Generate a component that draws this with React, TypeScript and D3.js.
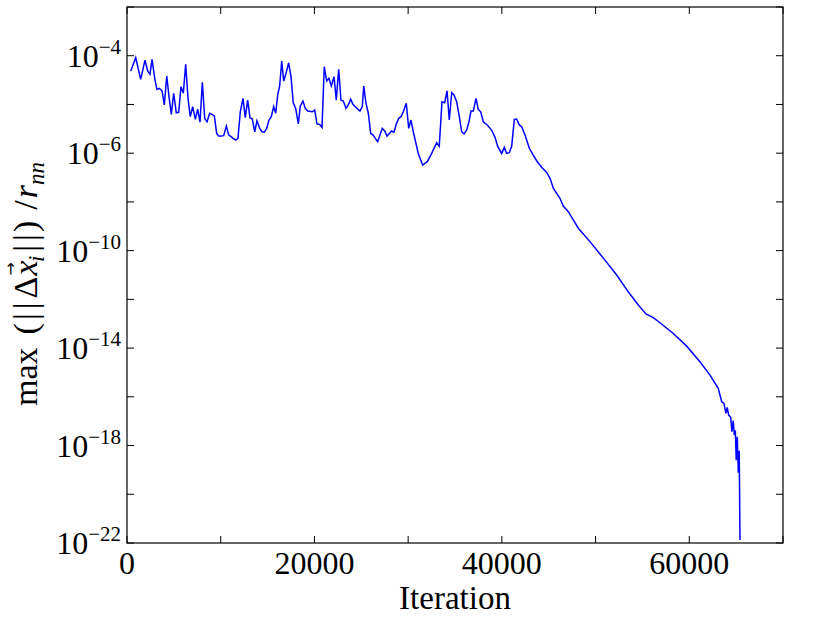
import React from "react";
import * as d3 from "d3";

// iteration number of each sample
const iterations = [
  400, 930, 1460, 1920, 2210, 2450, 2670, 2990, 3200, 3450,
  3740, 3980, 4240, 4480, 4730, 4980, 5260, 5520, 5760, 6010,
  6260, 6510, 6750, 7010, 7290, 7540, 7790, 8040, 8290, 8540,
  8820, 9070, 9320, 9570, 9820, 10320, 10600, 10850, 11340, 11600,
  11840, 12090, 12380, 12620, 12880, 13120, 13370, 13630, 13870, 14160,
  14400, 14650, 14910, 15150, 15400, 15650, 15870, 16080, 16290, 16510,
  16720, 16970, 17250, 17500, 17740, 18000, 18280, 18490, 18780, 19020,
  19280, 19770, 20030, 20270, 20560, 20810, 21050, 21310, 21550, 21800,
  22090, 22330, 22590, 22830, 23080, 23370, 23610, 23870, 24110, 24360,
  24620, 24860, 25110, 25260, 25500, 25750, 26000, 26250, 26490, 26750,
  27240, 27500, 27740, 27990, 28240, 28490, 28740, 28990, 29240, 29480,
  29800, 30060, 30300, 30550, 31080, 31550, 32040, 32510, 33050, 33320,
  33610, 33900, 34150, 34390, 34650, 34890, 35180, 35460, 35710, 35960,
  36250, 36490, 36710, 36950, 37240, 37480, 37740, 38020, 38440, 38910,
  39270, 39550, 39980, 40260, 40510, 40790, 41050, 41330, 41580, 41860,
  42120, 42470, 42930, 43350, 43780, 44250, 44780, 45140, 45490, 46200,
  46550, 47090, 48160, 49400, 51000, 52250, 53490, 54560, 55380, 56160,
  56870, 58290, 59720, 61140, 62210, 63090, 63460, 63700, 63910, 64050,
  64200, 64420, 64550, 64690, 64800, 64910, 65010, 65120, 65230, 65330, 65410,
];

// log10 of max(|dx_i|)/r_nn
const log10Ratio = [
  -2.63, -2.08, -2.97, -2.18, -2.63, -2.76, -2.15, -3.0, -3.38, -3.34,
  -3.44, -4.02, -2.83, -3.68, -4.41, -3.54, -4.34, -4.32, -3.27, -3.54,
  -2.35, -3.75, -4.5, -4.09, -4.61, -4.19, -4.73, -3.09, -4.57, -4.71,
  -4.36, -4.41, -4.47, -5.19, -5.3, -5.28, -4.89, -5.25, -5.39, -5.46,
  -5.39, -4.3, -3.75, -4.54, -3.82, -4.54, -4.6, -5.12, -4.67, -4.98,
  -5.12, -5.14, -4.98, -4.64, -4.5, -4.09, -4.36, -3.61, -3.24, -2.22,
  -3.04, -2.72, -2.29, -2.86, -3.93, -4.16, -4.8, -4.06, -3.86, -4.16,
  -4.27, -4.3, -4.23, -4.8, -4.82, -4.94, -2.45, -3.04, -2.93, -3.24,
  -2.86, -3.82, -2.56, -3.82, -3.86, -4.16, -4.02, -3.78, -3.99, -4.09,
  -4.19, -4.27, -4.09, -3.24, -3.95, -4.36, -5.19, -5.25, -5.39, -5.53,
  -4.98, -5.09, -5.3, -5.19, -5.09, -5.14, -4.8, -4.57, -4.5, -4.3,
  -3.95, -4.98, -4.64, -5.12, -6.01, -6.49, -6.35, -6.01, -5.57, -5.71,
  -3.89, -3.93, -3.44, -4.64, -3.52, -3.61, -3.89, -4.5, -5.12, -5.21,
  -5.05, -4.71, -4.27, -4.27, -3.75, -4.2, -4.3, -4.71, -4.84, -5.05,
  -5.35, -5.71, -6.01, -5.76, -6.01, -5.98, -5.71, -4.61, -4.6, -4.84,
  -4.91, -5.25, -5.8, -6.08, -6.35, -6.58, -6.79, -7.03, -7.44, -7.85,
  -8.17, -8.4, -9.08, -9.63, -10.39, -11.0, -11.69, -12.23, -12.6, -12.75,
  -12.96, -13.4, -13.92, -14.56, -15.11, -15.65, -16.2, -16.27, -16.68, -16.43,
  -16.75, -16.84, -17.43, -16.98, -17.57, -17.37, -18.6, -17.64, -19.12, -18.21, -21.88,
];

const xTicks = [0, 10000, 20000, 30000, 40000, 50000, 60000, 70000];
const xTickLabels = ["0", "", "20000", "", "40000", "", "60000", ""];
const yTicks = [1e0, 1e-2, 1e-4, 1e-6, 1e-8, 1e-10, 1e-12, 1e-14, 1e-16, 1e-18, 1e-20, 1e-22];
// labels exactly as printed on the original figure
const yLabelTicks = [1e-2, 1e-6, 1e-10, 1e-14, 1e-18, 1e-22];
const yLabelExps = ["\u22124", "\u22126", "\u221210", "\u221214", "\u221218", "\u221222"];

const W = 830;
const H = 623;
const left = 127, right = 783, top = 7, bottom = 543;
const FONT = "'Liberation Serif', 'DejaVu Serif', serif";

export default function App() {
  const x = d3.scaleLinear().domain([0, 70000]).range([left, right]);
  const y = d3.scaleLog().domain([1e-22, 1e0]).range([bottom, top]);

  const data = iterations.map((it, i) => ({ it, v: Math.pow(10, log10Ratio[i]) }));
  const line = d3.line<{ it: number; v: number }>()
    .x(d => x(d.it))
    .y(d => y(d.v));

  const tick = 7;

  return (
    <svg width={W} height={H} style={{ position: "absolute", left: 0, top: 0, background: "#fff" }} fontFamily={FONT}>
      <rect x={0} y={0} width={W} height={H} fill="#fff" />
      <defs>
        <clipPath id="plotClip">
          <rect x={left} y={top} width={right - left} height={bottom - top} />
        </clipPath>
      </defs>

      <path d={line(data) || ""} fill="none" stroke="#0000ff" strokeWidth={1.5} clipPath="url(#plotClip)" />

      {/* x ticks, inward on bottom and top */}
      {xTicks.map((t, i) => (
        <g key={"xt" + i}>
          <line x1={x(t)} x2={x(t)} y1={bottom} y2={bottom - tick} stroke="#000" strokeWidth={1} />
          <line x1={x(t)} x2={x(t)} y1={top} y2={top + tick} stroke="#000" strokeWidth={1} />
          {xTickLabels[i] && (
            <text x={x(t)} y={574} textAnchor="middle" fontSize={32} fill="#000">{xTickLabels[i]}</text>
          )}
        </g>
      ))}

      {/* y ticks, inward on left and right */}
      {yTicks.map((t, i) => (
        <g key={"yt" + i}>
          <line x1={left} x2={left + tick} y1={y(t)} y2={y(t)} stroke="#000" strokeWidth={1} />
          <line x1={right} x2={right - tick} y1={y(t)} y2={y(t)} stroke="#000" strokeWidth={1} />
        </g>
      ))}
      {yLabelTicks.map((t, i) => (
        <text key={"yl" + i} x={121} y={y(t) + 11} textAnchor="end" fontSize={32} fill="#000">
          <tspan>10</tspan>
          <tspan dy={-13} fontSize={21}>{yLabelExps[i]}</tspan>
        </text>
      ))}

      <rect x={left} y={top} width={right - left} height={bottom - top} fill="none" stroke="#000" strokeWidth={1.2} />

      <text x={(left + right) / 2} y={609} textAnchor="middle" fontSize={33} fill="#000">Iteration</text>

      <g transform="translate(37,284) rotate(-90)">
        <text x={0} y={0} textAnchor="middle" fontSize={34} fill="#000">
          <tspan>max</tspan>
          <tspan dx={13}>(</tspan>
          <tspan dx={3}>|</tspan>
          <tspan dx={4}>|</tspan>
          <tspan dx={4}>Δ</tspan>
          <tspan dx={1} fontStyle="italic">x</tspan>
          <tspan dx={-15} dy={-21} fontSize={16} fontFamily="'DejaVu Sans'">→</tspan>
          <tspan dx={0} dy={28} fontSize={23} fontStyle="italic">i</tspan>
          <tspan dx={4} dy={-7}>|</tspan>
          <tspan dx={4}>|</tspan>
          <tspan dx={2}>)</tspan>
          <tspan dx={11}>/</tspan>
          <tspan dx={2} fontStyle="italic">r</tspan>
          <tspan dy={7} fontSize={23} fontStyle="italic">nn</tspan>
        </text>
      </g>
    </svg>
  );
}
